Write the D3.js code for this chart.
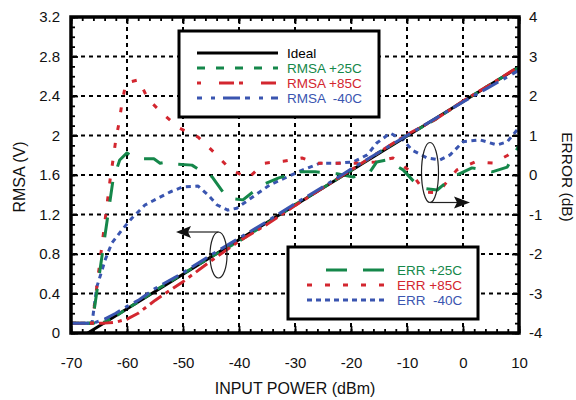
<!DOCTYPE html>
<html><head><meta charset="utf-8">
<script src="https://cdn.jsdelivr.net/npm/d3@7"></script>
<style>
body{margin:0;background:#fff;}
text{font-family:"Liberation Sans",Arial,Helvetica,sans-serif;}
</style></head>
<body><svg id="c" width="576" height="400"></svg>
<script>
// ---------- data ----------
const xTicks = [-70,-60,-50,-40,-30,-20,-10,0,10];
const leftTicks = [0,0.4,0.8,1.2,1.6,2,2.4,2.8,3.2];
const rightTicks = [-4,-3,-2,-1,0,1,2,3,4];

const idealX = [-67, 10];
const idealY = [0, 2.695];

const rmsaX = [-70,-68,-66,-64,-62,-60,-58,-55,-50,-45,-40,-35,-30,-25,-20,-15,-10,-5,0,5,10];
const rmsa25 = [0.1,0.1,0.1,0.11,0.17,0.245,0.315,0.43,0.6,0.77,0.93,1.11,1.3,1.47,1.645,1.83,2.0,2.16,2.345,2.52,2.69];
const rmsa85 = [0.1,0.1,0.1,0.1,0.11,0.14,0.2,0.33,0.52,0.73,0.93,1.1,1.29,1.47,1.65,1.83,2.01,2.16,2.35,2.52,2.7];
const rmsaM40 = [0.1,0.1,0.1,0.14,0.2,0.27,0.33,0.45,0.61,0.79,0.96,1.13,1.31,1.48,1.66,1.83,2.0,2.17,2.34,2.5,2.66];

const err25X = [-70,-66.2,-62.5,-61.3,-60,-58.4,-55.2,-54.1,-52.9,-51.8,-48.4,-47.3,-46.1,-44.8,-42.1,-39.3,-35.9,-33,-29.5,-26.4,-22.5,-19.6,-16.6,-15.4,-13.6,-10.7,-7.7,-4.6,-1.8,1.6,5.2,7.9,10];
const err25Y = [-3.75,-3.75,-0.13,0.38,0.56,0.41,0.41,0.30,0.33,0.28,0.25,0.15,0.13,-0.05,-0.58,-0.63,-0.25,-0.08,0.08,0.08,0.03,-0.05,0.08,0.33,0.38,0.13,-0.33,-0.38,-0.05,0.18,0.08,0.2,0.75];

const err85X = [-70,-66.2,-63,-62.5,-62,-61.4,-60.9,-60.2,-57.9,-56.25,-53.75,-50.7,-47.3,-44.5,-41.6,-38.4,-35.4,-32.1,-28.75,-25.9,-22.3,-18.9,-15.7,-12.5,-9.5,-6.8,-4.5,-1.1,2.1,5.4,8,10];
const err85Y = [-3.75,-3.75,-0.1,0.38,0.89,1.34,1.82,2.33,2.41,1.92,1.57,1.19,0.96,0.58,0.15,-0.08,0.3,0.35,0.43,0.3,0.3,0.3,0.33,0.43,0.1,-0.43,-0.45,0.13,0.33,0.3,0.5,0.75];

const errM40X = [-70,-66.25,-65.4,-63.9,-62.7,-60.9,-59.1,-56.8,-54.1,-52.3,-50,-47.3,-45.5,-43.9,-42,-40.4,-37.1,-34.5,-31.4,-28.6,-25.5,-22.5,-19.6,-17.1,-15.4,-13,-10.7,-9.1,-6.4,-4.1,-2.3,0,3,6.1,7.9,10];
const errM40Y = [-3.75,-3.75,-2.84,-2.15,-1.72,-1.39,-1.09,-0.76,-0.56,-0.43,-0.3,-0.28,-0.51,-0.76,-0.89,-0.84,-0.51,-0.25,-0.05,0.13,0.3,0.3,0.33,0.51,0.81,1.06,0.89,0.63,0.43,0.38,0.51,0.84,0.89,0.76,0.84,1.2];

const legend1 = ["Ideal","RMSA +25C","RMSA +85C","RMSA  -40C"];
const legend2 = ["ERR +25C","ERR +85C","ERR  -40C"];

// ---------- drawing ----------
const GREEN = "#15874a", RED = "#d3262f", BLUE = "#3a55b0";
const svg = d3.select("#c");
const X0=71, X1=519, Y0=333, Y1=17;
const x = d3.scaleLinear().domain([-70,10]).range([X0,X1]);
const yL = d3.scaleLinear().domain([0,3.2]).range([Y0,Y1]);
const yR = d3.scaleLinear().domain([-4,4]).range([Y0,Y1]);

svg.append("defs").append("clipPath").attr("id","clip")
  .append("rect").attr("x",X0).attr("y",Y1).attr("width",X1-X0).attr("height",Y0-Y1);

// grid
const grid = svg.append("g").attr("stroke","#000").attr("stroke-width",2).attr("stroke-dasharray","4,4");
xTicks.filter(v=>v>-70&&v<10).forEach(v=>{
  grid.append("line").attr("x1",x(v)).attr("x2",x(v)).attr("y1",Y1+2).attr("y2",Y0);
});
leftTicks.filter(v=>v>0&&v<3.2).forEach(v=>{
  grid.append("line").attr("x1",X0+2).attr("x2",X1).attr("y1",yL(v)).attr("y2",yL(v));
});

// minor ticks via axes
function styleTicks(g){ g.select(".domain").remove(); g.selectAll("line").attr("stroke","#000").attr("stroke-width",1.8); }
const minorX = d3.range(-70,10.01,2);
const minorY = d3.range(0,3.201,0.1);
svg.append("g").attr("transform",`translate(0,${Y0})`).call(d3.axisBottom(x).tickValues(minorX).tickSize(-4).tickFormat("")).call(styleTicks);
svg.append("g").attr("transform",`translate(0,${Y1})`).call(d3.axisTop(x).tickValues(minorX).tickSize(-4).tickFormat("")).call(styleTicks);
svg.append("g").attr("transform",`translate(${X0},0)`).call(d3.axisLeft(yL).tickValues(minorY).tickSize(-4).tickFormat("")).call(styleTicks);
svg.append("g").attr("transform",`translate(${X1},0)`).call(d3.axisRight(yL).tickValues(minorY).tickSize(-4).tickFormat("")).call(styleTicks);
// major ticks
svg.append("g").attr("transform",`translate(0,${Y0})`).call(d3.axisBottom(x).tickValues(xTicks).tickSize(-7).tickFormat("")).call(styleTicks);
svg.append("g").attr("transform",`translate(0,${Y1})`).call(d3.axisTop(x).tickValues(xTicks).tickSize(-7).tickFormat("")).call(styleTicks);
svg.append("g").attr("transform",`translate(${X0},0)`).call(d3.axisLeft(yL).tickValues(leftTicks).tickSize(-7).tickFormat("")).call(styleTicks);
svg.append("g").attr("transform",`translate(${X1},0)`).call(d3.axisRight(yR).tickValues(rightTicks).tickSize(-7).tickFormat("")).call(styleTicks);

// labels via axes
function styleLabels(g){ g.select(".domain").remove(); g.selectAll("line").remove();
  g.selectAll("text").attr("font-size",15).attr("fill","#111").attr("font-family","Liberation Sans, Arial, sans-serif"); }
svg.append("g").attr("transform",`translate(0,${Y0})`).call(d3.axisBottom(x).tickValues(xTicks).tickSize(0).tickPadding(24).tickFormat(d=>String(d))).call(styleLabels);
svg.append("g").attr("transform",`translate(${X0},0)`).call(d3.axisLeft(yL).tickValues(leftTicks).tickSize(0).tickPadding(11).tickFormat(d=>String(+d.toFixed(1)))).call(styleLabels);
svg.append("g").attr("transform",`translate(${X1},0)`).call(d3.axisRight(yR).tickValues(rightTicks).tickSize(0).tickPadding(10).tickFormat(d=>String(d))).call(styleLabels);

// axis titles
svg.append("text").attr("x",(X0+X1)/2).attr("y",394).attr("text-anchor","middle").attr("font-size",16).attr("fill","#111").text("INPUT POWER (dBm)");
svg.append("text").attr("transform","translate(25,177) rotate(-90)").attr("text-anchor","middle").attr("font-size",16).attr("fill","#111").text("RMSA (V)");
svg.append("text").attr("transform","translate(562,177) rotate(90)").attr("text-anchor","middle").attr("font-size",15.5).attr("fill","#111").text("ERROR (dB)");

// curves
const plot = svg.append("g").attr("clip-path","url(#clip)");
function drawLine(xs, ys, yScale, color, dash, w){
  const pts = xs.map((v,i)=>[v,ys[i]]);
  plot.append("path").datum(pts)
    .attr("d", d3.line().x(d=>x(d[0])).y(d=>yScale(d[1])))
    .attr("fill","none").attr("stroke",color).attr("stroke-width",w)
    .attr("stroke-dasharray",dash).attr("stroke-linejoin","round");
}
drawLine(errM40X, errM40Y, yR, BLUE, "5,4.5", 3);
drawLine(err85X, err85Y, yR, RED, "5,13", 3);
drawLine(err25X, err25Y, yR, GREEN, "20,16", 3);
drawLine(idealX, idealY, yL, "#000", null, 3);
drawLine(rmsaX, rmsa25, yL, GREEN, "8,8", 3);
drawLine(rmsaX, rmsa85, yL, RED, "14,5,4,5", 3);
drawLine(rmsaX, rmsaM40, yL, BLUE, "18,6,4,6", 3);

// frame
svg.append("rect").attr("x",X0).attr("y",Y1).attr("width",X1-X0).attr("height",Y0-Y1)
  .attr("fill","none").attr("stroke","#000").attr("stroke-width",3.5);

// legend 1
const l1 = svg.append("g");
l1.append("rect").attr("x",179).attr("y",31).attr("width",200).attr("height",86).attr("fill","#fff").attr("stroke","#000").attr("stroke-width",3);
const l1Styles = [["#000",null],[GREEN,"8,11"],[RED,"4,18,15,5"],[BLUE,"5,9,4,8,17,5"]];
const l1Y = [53,68,83,98];
legend1.forEach((t,i)=>{
  l1.append("line").attr("x1",197).attr("x2",278).attr("y1",l1Y[i]).attr("y2",l1Y[i])
    .attr("stroke",l1Styles[i][0]).attr("stroke-width",3).attr("stroke-dasharray",l1Styles[i][1]);
  l1.append("text").attr("x",287).attr("y",l1Y[i]+5).attr("font-size",13.5).attr("fill",l1Styles[i][0]).style("white-space","pre").text(t);
});

// legend 2
const l2 = svg.append("g");
l2.append("rect").attr("x",288).attr("y",247).attr("width",190).attr("height",72).attr("fill","#fff").attr("stroke","#000").attr("stroke-width",3);
const l2Styles = [[GREEN,"21,16",326],[RED,"5,13",307],[BLUE,"5,4",307]];
const l2Y = [270,285,300];
legend2.forEach((t,i)=>{
  l2.append("line").attr("x1",l2Styles[i][2]).attr("x2",385).attr("y1",l2Y[i]).attr("y2",l2Y[i])
    .attr("stroke",l2Styles[i][0]).attr("stroke-width",3).attr("stroke-dasharray",l2Styles[i][1]);
  l2.append("text").attr("x",397).attr("y",l2Y[i]+5).attr("font-size",13.5).attr("fill",l2Styles[i][0]).style("white-space","pre").text(t);
});

// annotations
const ann = svg.append("g").attr("stroke","#222").attr("stroke-width",1.2).attr("fill","none");
ann.append("ellipse").attr("cx",218.5).attr("cy",255).attr("rx",8.5).attr("ry",23);
ann.append("line").attr("x1",218.5).attr("y1",232).attr("x2",188).attr("y2",232);
svg.append("path").attr("d","M176,232 L191,226 L188,232 L191,238 Z").attr("fill","#111");
ann.append("ellipse").attr("cx",430).attr("cy",172.5).attr("rx",8.5).attr("ry",30);
ann.append("line").attr("x1",430).attr("y1",202.5).attr("x2",458).attr("y2",202.5);
svg.append("path").attr("d","M470,202.5 L454,196.5 L457,202.5 L454,208.5 Z").attr("fill","#111");
</script></body></html>
